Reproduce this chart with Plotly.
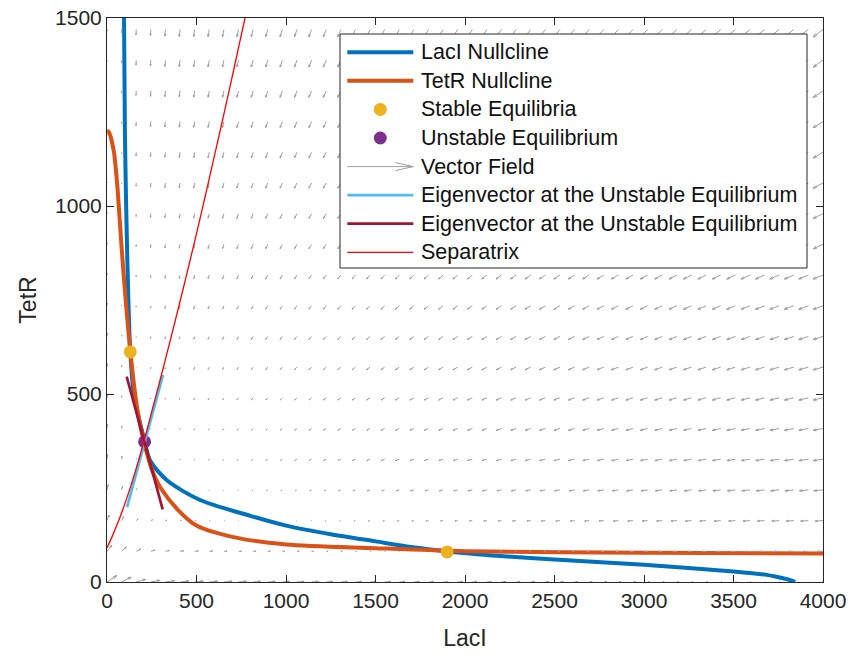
import numpy as np
import plotly.graph_objects as go

# ---------------- data ----------------
# LacI nullcline (LacI value for a given TetR level)
laci_L = [95, 100, 107, 119, 130, 150, 210, 240, 333, 520, 800, 1000, 1250, 1500, 1700, 1900,
          2200, 2500, 3000, 3500, 3685, 3740, 3777, 3810, 3830, 3844]
laci_T = [1500, 1200, 1000, 755, 612, 500, 375, 324, 271, 218, 176, 150, 127, 108, 93, 81,
          69, 60, 46, 28, 19, 14, 10, 6, 3, 0]

# TetR nullcline (TetR value for a given LacI level)
tetr_L = [0, 10, 20, 30, 40, 50, 60, 80, 100, 120, 140, 160, 180, 200, 250, 300, 400,
          500, 700, 1000, 1500, 2000, 3000, 4000]
tetr_T = [1200, 1197, 1185, 1165, 1140, 1095, 1040, 900, 775, 665, 570, 490, 430, 385,
          300, 250, 190, 150, 120, 100, 90, 82, 78, 76]

# equilibria
stable_L = [130, 1900]
stable_T = [612, 80]
unstable_L = [210]
unstable_T = [373]

# eigenvector segments through the unstable equilibrium
eig1_L = [112, 313]
eig1_T = [199, 551]
eig2_L = [110, 311]
eig2_T = [546, 193]

# separatrix
sep_L = [0, 28, 56, 84, 112, 140, 173, 207, 251, 296, 352, 408, 464, 520, 575, 631, 687, 743, 771]
sep_T = [91, 120, 152, 187, 225, 266, 318, 375, 455, 536, 640, 746, 855, 967, 1081, 1198, 1317, 1439, 1500]

# vector-field grid (50 columns over LacI, same step on TetR)
n_cols = 50
grid_step = 4000 / (n_cols - 1)
field_L = np.arange(n_cols) * grid_step
field_T = np.arange(19) * grid_step

legend_labels = ['LacI Nullcline', 'TetR Nullcline', 'Stable Equilibria', 'Unstable Equilibrium',
                 'Vector Field', 'Eigenvector at the Unstable Equilibrium',
                 'Eigenvector at the Unstable Equilibrium', 'Separatrix']

# ---------------- styling ----------------
X_RANGE = [0, 4000]
Y_RANGE = [0, 1500]
W, H = 852, 658
M = dict(l=107, r=29, t=18, b=76)
PW = W - M['l'] - M['r']
PH = H - M['t'] - M['b']
sx = PW / (X_RANGE[1] - X_RANGE[0])   # px per LacI unit
sy = PH / (Y_RANGE[1] - Y_RANGE[0])   # px per TetR unit

FONT = "Liberation Sans, Arial, Helvetica, sans-serif"
AX = "#262626"
C_BLUE, C_ORANGE, C_YELLOW, C_PURPLE = '#0072BD', '#D95319', '#EDB120', '#7E2F8E'
C_GRAY, C_LBLUE, C_MAROON, C_RED = '#a0a0a0', '#4DBEEE', '#A2142F', '#FF0000'

# flow implied by the nullclines: dL/dt ~ Lnull(T) - L, dT/dt ~ Tnull(L) - T
LL, TT = np.meshgrid(field_L, field_T)
u = np.interp(TT, laci_T[::-1], laci_L[::-1]) - LL
v = np.interp(LL, tetr_L, tetr_T) - TT
pu = u * sx
pv = v * sy
mag = np.hypot(pu, pv)
scale = 12.5 / mag.max()
pu *= scale
pv *= scale

alpha, beta = 0.33, 0.33
qx, qy = [], []
for L0, T0, a, b in zip(LL.ravel(), TT.ravel(), pu.ravel(), pv.ravel()):
    tipx, tipy = L0 + a / sx, T0 + b / sy
    h1x = a - alpha * (a - beta * b)
    h1y = b - alpha * (b + beta * a)
    h2x = a - alpha * (a + beta * b)
    h2y = b - alpha * (b - beta * a)
    qx += [L0, tipx, None, L0 + h1x / sx, tipx, L0 + h2x / sx, None]
    qy += [T0, tipy, None, T0 + h1y / sy, tipy, T0 + h2y / sy, None]

fig = go.Figure()
fig.add_trace(go.Scatter(x=laci_L, y=laci_T, mode='lines', name=legend_labels[0],
                         line=dict(color=C_BLUE, width=4, shape='spline', smoothing=0.8)))
fig.add_trace(go.Scatter(x=tetr_L, y=tetr_T, mode='lines', name=legend_labels[1],
                         line=dict(color=C_ORANGE, width=4, shape='spline', smoothing=0.8)))
fig.add_trace(go.Scatter(x=stable_L, y=stable_T, mode='markers', name=legend_labels[2],
                         marker=dict(color=C_YELLOW, size=13)))
fig.add_trace(go.Scatter(x=unstable_L, y=unstable_T, mode='markers', name=legend_labels[3],
                         marker=dict(color=C_PURPLE, size=13)))
fig.add_trace(go.Scatter(x=qx, y=qy, mode='lines', name=legend_labels[4],
                         line=dict(color=C_GRAY, width=1), hoverinfo='skip'))
fig.add_trace(go.Scatter(x=eig1_L, y=eig1_T, mode='lines', name=legend_labels[5],
                         line=dict(color=C_LBLUE, width=2.7)))
fig.add_trace(go.Scatter(x=eig2_L, y=eig2_T, mode='lines', name=legend_labels[6],
                         line=dict(color=C_MAROON, width=2.7)))
fig.add_trace(go.Scatter(x=sep_L, y=sep_T, mode='lines', name=legend_labels[7],
                         line=dict(color=C_RED, width=1.3, shape='spline', smoothing=0.8)))

# ---------------- legend box drawn like the reference ----------------
def px2p(px):
    return (px - M['l']) / PW

def py2p(py):
    return (M['t'] + PH - py) / PH

box = dict(x0=340, x1=807, y0=34, y1=268)
row0, row_step = 52.3, 28.57
sym_x0, sym_x1, text_x = 347.3, 413.3, 419
styles = [('line', C_BLUE, 4), ('line', C_ORANGE, 4), ('dot', C_YELLOW, 13), ('dot', C_PURPLE, 13),
          ('arrow', C_GRAY, 1), ('line', C_LBLUE, 2.7), ('line', C_MAROON, 2.7), ('line', C_RED, 1.3)]

shapes = [dict(type='rect', xref='paper', yref='paper', layer='above',
               x0=px2p(box['x0']), x1=px2p(box['x1']), y0=py2p(box['y1']), y1=py2p(box['y0']),
               fillcolor='white', line=dict(color=AX, width=1))]
annotations = []
for i, (label, (kind, col, w)) in enumerate(zip(legend_labels, styles)):
    yc = row0 + i * row_step
    if kind == 'line':
        shapes.append(dict(type='line', xref='paper', yref='paper', layer='above',
                           x0=px2p(sym_x0), x1=px2p(sym_x1), y0=py2p(yc), y1=py2p(yc),
                           line=dict(color=col, width=w)))
    elif kind == 'dot':
        xm = (sym_x0 + sym_x1) / 2
        shapes.append(dict(type='circle', xref='paper', yref='paper', layer='above',
                           xsizemode='pixel', ysizemode='pixel',
                           xanchor=px2p(xm), yanchor=py2p(yc),
                           x0=-w / 2, x1=w / 2, y0=-w / 2, y1=w / 2,
                           fillcolor=col, line=dict(color=col, width=0)))
    else:
        path = (f"M {px2p(sym_x0)},{py2p(yc)} L {px2p(sym_x1)},{py2p(yc)} "
                f"M {px2p(sym_x1 - 18)},{py2p(yc - 4)} L {px2p(sym_x1)},{py2p(yc)} "
                f"L {px2p(sym_x1 - 18)},{py2p(yc + 4)}")
        shapes.append(dict(type='path', xref='paper', yref='paper', layer='above', path=path,
                           line=dict(color=col, width=w)))
    annotations.append(dict(text=label, xref='paper', yref='paper', x=px2p(text_x), y=py2p(yc),
                            xanchor='left', yanchor='middle', showarrow=False,
                            font=dict(family=FONT, size=21.5, color='#111111')))

axis_common = dict(showline=True, linecolor=AX, linewidth=1, mirror='ticks', ticks='inside',
                   ticklen=7, tickcolor=AX, tickwidth=1, showgrid=False, zeroline=False,
                   tickfont=dict(family=FONT, size=21, color=AX))
fig.update_xaxes(range=X_RANGE, tickvals=list(range(0, 4001, 500)),
                 title=dict(text='LacI', font=dict(family=FONT, size=23, color=AX), standoff=18),
                 **axis_common)
fig.update_yaxes(range=Y_RANGE, tickvals=[0, 500, 1000, 1500],
                 title=dict(text='TetR', font=dict(family=FONT, size=23, color=AX), standoff=12),
                 **axis_common)

fig.update_layout(
    width=W, height=H, margin=dict(M, autoexpand=False),
    plot_bgcolor='white', paper_bgcolor='white',
    font=dict(family=FONT, color=AX),
    showlegend=False,
    shapes=shapes, annotations=annotations,
)

fig.write_html("out.html")
